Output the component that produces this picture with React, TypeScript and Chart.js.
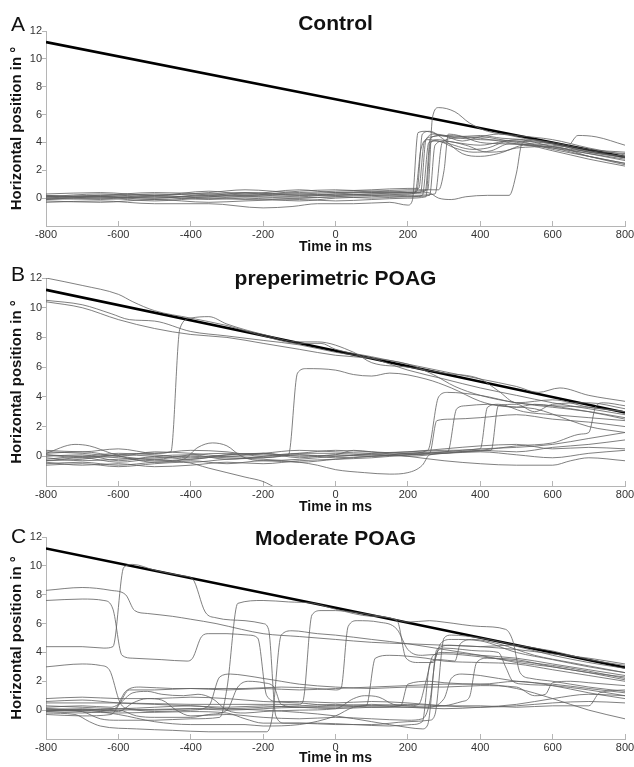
import React, { useEffect, useRef } from 'react';
import { Chart, registerables } from 'chart.js';
Chart.register(...registerables);
Chart.defaults.font.family = '"Liberation Sans", Arial, Helvetica, sans-serif';

type Pt = [number, number];

const xTicks = [-800, -600, -400, -200, 0, 200, 400, 600, 800];
const yTicks = [0, 2, 4, 6, 8, 10, 12];
const panelTitles = ['Control', 'preperimetric POAG', 'Moderate POAG'];
const panelLetters = ['A', 'B', 'C'];
const xTitle = 'Time in ms';
const yTitle = 'Horizontal position in °';

const targetA: Pt[] = [[-800, 11.2], [0, 7.1], [800, 2.95]];
const targetB: Pt[] = [[-800, 11.2], [0, 7.1], [800, 2.95]];
const targetC: Pt[] = [[-800, 11.2], [0, 7.1], [800, 2.95]];

const tracesA: Pt[][] = [
  [[-800,0.1],[-650,0.3],[-500,0.2],[-350,0.4],[-250,0.6],[-100,0.4],[0,0.5],[100,0.6],[200,0.7],[230,0.7],[245,4.0],[265,4.4],[300,4.5],[400,4.3],[500,3.9],[600,3.6],[700,3.2],[800,2.8]],
  [[-800,-0.1],[-650,0.0],[-500,-0.2],[-350,0.0],[-250,-0.1],[-100,0.0],[0,0.1],[100,0.0],[200,0.1],[240,0.2],[258,4.0],[280,4.1],[330,3.6],[380,3.3],[430,3.4],[480,3.9],[600,3.6],[700,3.0],[800,2.5]],
  [[-800,-0.3],[-650,-0.2],[-500,-0.4],[-350,-0.4],[-200,-0.7],[-120,-0.6],[-50,-0.4],[50,-0.4],[150,-0.3],[200,-0.5],[212,-0.2],[228,4.7],[250,4.8],[290,4.5],[400,4.2],[500,4.1],[600,3.5],[700,3.0],[800,2.5]],
  [[-800,0.0],[-650,0.1],[-500,0.0],[-350,0.2],[-250,0.1],[-100,0.3],[0,0.2],[100,0.3],[200,0.3],[255,0.4],[285,0.0],[320,-0.1],[360,0.1],[420,0.2],[480,0.2],[500,1.8],[515,3.9],[540,4.2],[600,3.9],[700,3.3],[800,2.9]],
  [[-800,0.2],[-650,0.1],[-500,0.3],[-350,0.2],[-250,0.4],[-100,0.3],[0,0.4],[100,0.4],[200,0.5],[255,0.6],[268,5.8],[285,6.5],[330,6.2],[370,5.4],[420,4.8],[500,4.5],[600,4.2],[700,3.6],[800,3.1]],
  [[-800,0.0],[-650,-0.1],[-500,0.1],[-350,-0.1],[-250,0.0],[-100,-0.2],[0,0.0],[100,0.1],[200,0.2],[275,0.3],[295,4.0],[330,4.3],[400,4.4],[500,4.0],[600,3.8],[640,3.7],[670,4.5],[720,4.4],[800,3.8]],
  [[-800,0.3],[-650,0.4],[-500,0.2],[-350,0.5],[-250,0.3],[-100,0.6],[0,0.4],[100,0.5],[200,0.4],[225,0.5],[240,4.6],[260,4.8],[300,4.2],[350,3.2],[400,3.0],[450,3.2],[500,3.6],[600,3.7],[700,3.0],[800,2.4]],
  [[-800,-0.2],[-650,-0.3],[-500,-0.1],[-350,-0.3],[-250,-0.2],[-100,-0.1],[0,-0.2],[100,-0.1],[200,0.0],[250,0.1],[262,3.9],[280,4.2],[330,4.0],[400,3.8],[450,4.0],[500,4.2],[600,3.7],[700,3.2],[800,2.7]],
  [[-800,0.1],[-650,0.2],[-500,0.4],[-350,0.3],[-250,0.2],[-100,0.5],[0,0.6],[100,0.5],[200,0.6],[285,0.6],[300,2.0],[312,4.6],[340,4.5],[400,4.0],[470,3.9],[560,3.8],[650,3.5],[800,3.0]],
  [[-800,0.0],[-650,0.2],[-500,0.1],[-350,0.1],[-250,0.3],[-100,0.2],[0,0.3],[100,0.2],[200,0.3],[220,0.4],[236,3.5],[255,4.2],[300,4.0],[380,3.5],[420,3.6],[480,4.1],[600,3.9],[700,3.4],[800,3.2]],
  [[-800,-0.1],[-650,0.1],[-500,-0.1],[-350,0.1],[-250,0.2],[-100,0.1],[0,0.3],[100,0.4],[200,0.4],[235,0.4],[250,4.2],[275,4.6],[330,4.4],[400,4.5],[460,4.3],[520,4.2],[600,3.9],[700,3.3],[800,3.0]],
  [[-800,0.2],[-650,0.0],[-500,0.2],[-350,0.0],[-250,0.1],[-100,0.0],[0,0.1],[100,0.2],[200,0.1],[260,0.2],[275,3.8],[300,4.1],[360,3.8],[420,3.3],[470,3.4],[520,3.8],[600,3.4],[700,2.8],[800,2.3]],
  [[-800,0.1],[-650,0.1],[-500,0.0],[-350,0.3],[-250,0.4],[-100,0.2],[0,0.2],[100,0.3],[200,0.4],[248,0.5],[262,4.3],[290,4.5],[350,4.1],[400,4.4],[450,4.6],[520,4.3],[600,4.0],[700,3.5],[800,3.3]],
];

const tracesB: Pt[][] = [
  [[-800,12.0],[-700,11.5],[-600,10.9],[-560,10.4],[-500,9.8],[-400,9.3],[-300,8.8],[-200,8.1],[-100,7.6],[-40,7.6],[0,7.2],[100,6.7],[200,6.2],[300,5.7],[400,5.2],[500,4.7],[560,4.3],[620,4.6],[700,4.1],[800,3.7]],
  [[-800,10.5],[-700,10.2],[-620,9.6],[-570,9.2],[-500,9.1],[-400,8.4],[-300,8.1],[-200,7.8],[-100,7.5],[0,7.0],[100,6.6],[200,5.8],[300,5.2],[400,4.6],[500,4.1],[600,3.6],[700,3.2],[800,2.8]],
  [[-800,10.4],[-700,10.0],[-600,9.2],[-500,8.6],[-400,8.2],[-300,8.0],[-200,7.6],[-100,7.2],[0,6.8],[100,6.6],[200,6.2],[270,5.5],[330,4.7],[400,4.1],[500,3.6],[600,3.3],[700,3.0],[800,2.5]],
  [[-800,-0.3],[-700,-0.2],[-600,0.1],[-500,0.2],[-455,0.3],[-430,8.6],[-400,9.3],[-350,9.4],[-300,8.9],[-200,8.2],[-100,7.7],[-50,7.7],[50,7.0],[100,6.3],[200,6.0],[300,5.6],[400,5.2],[450,4.4],[500,3.6],[600,3.8],[700,3.3],[800,3.0]],
  [[-800,0.2],[-700,0.3],[-600,0.0],[-500,-0.2],[-400,0.1],[-300,0.2],[-200,0.1],[-130,0.1],[-105,5.6],[-80,5.9],[0,5.8],[50,5.5],[100,5.4],[150,5.6],[250,5.2],[320,4.6],[400,3.7],[450,3.4],[550,3.2],[650,2.4],[700,2.0],[800,1.6]],
  [[-800,0.0],[-700,0.1],[-600,-0.3],[-500,0.0],[-400,0.1],[-300,-0.2],[-200,0.0],[-100,0.2],[0,0.2],[100,0.1],[200,0.2],[255,0.4],[285,4.0],[310,4.3],[400,4.1],[500,3.6],[600,3.4],[700,3.3],[800,3.0]],
  [[-800,-0.5],[-700,-0.4],[-600,-0.6],[-500,-0.4],[-400,-0.3],[-300,-0.5],[-200,-0.3],[-100,-0.4],[0,-0.2],[100,0.0],[200,0.1],[260,0.2],[280,2.4],[320,2.5],[400,2.6],[500,2.8],[600,2.5],[700,2.3],[800,2.0]],
  [[-800,0.4],[-700,0.3],[-600,0.5],[-500,0.2],[-400,0.4],[-300,0.3],[-200,0.0],[-100,0.2],[0,0.4],[100,0.3],[200,0.2],[310,0.3],[335,3.2],[360,3.4],[420,3.5],[500,3.3],[550,3.5],[650,3.2],[800,2.6]],
  [[-800,-0.2],[-700,0.0],[-600,-0.1],[-500,-0.3],[-400,-0.2],[-300,0.0],[-200,-0.1],[-100,0.1],[0,0.0],[100,0.2],[200,0.3],[300,0.4],[400,0.5],[420,3.3],[450,3.5],[520,3.0],[600,2.8],[700,2.6],[800,2.4]],
  [[-800,0.1],[-700,-0.1],[-600,0.1],[-500,0.0],[-400,-0.2],[-300,0.1],[-200,0.2],[-100,-0.1],[0,0.1],[100,0.0],[200,0.2],[300,0.3],[430,0.4],[450,3.4],[500,3.5],[550,3.0],[600,3.5],[700,3.6],[800,3.2]],
  [[-800,-0.3],[-700,-0.1],[-600,-0.4],[-500,-0.2],[-400,-0.4],[-300,-0.2],[-200,-0.1],[-100,0.1],[0,-0.1],[100,0.0],[200,0.1],[300,0.2],[400,0.4],[500,0.7],[600,0.9],[680,1.5],[700,1.6],[720,3.4],[740,3.6],[800,3.4]],
  [[-800,-0.6],[-700,-0.5],[-600,-0.7],[-500,-0.5],[-420,-0.4],[-350,-0.8],[-300,-1.1],[-250,-1.4],[-200,-1.7],[-160,-2.2]],
  [[-800,0.2],[-720,0.8],[-680,0.7],[-620,0.2],[-560,-0.2],[-500,-0.4],[-420,-0.2],[-380,0.6],[-340,0.9],[-300,0.7],[-260,0.0],[-200,-0.3],[-100,-0.2],[0,0.0],[100,0.1],[200,0.0],[300,0.2],[400,0.4],[500,0.3],[600,0.6],[700,0.8],[800,1.1]],
  [[-800,-0.1],[-700,-0.3],[-600,-0.2],[-500,-0.1],[-400,0.0],[-300,-0.1],[-200,-0.2],[-100,-0.4],[-50,-0.6],[0,-0.9],[80,-1.1],[150,-1.2],[200,-1.1],[240,-0.6],[260,0.1],[300,0.2],[400,0.3],[500,0.1],[600,-0.1],[700,0.2],[800,0.4]],
  [[-800,0.1],[-700,0.0],[-600,0.2],[-500,0.1],[-400,-0.1],[-300,0.1],[-200,0.2],[-100,0.0],[0,0.1],[50,0.4],[100,0.3],[200,0.0],[300,-0.3],[400,-0.5],[500,-0.6],[600,-0.6],[650,-0.3],[700,-0.1],[800,-0.3]],
  [[-800,-0.4],[-700,-0.6],[-600,-0.5],[-500,-0.7],[-400,-0.6],[-300,-0.4],[-200,-0.5],[-100,-0.3],[0,-0.2],[100,-0.1],[200,0.1],[300,0.3],[400,0.5],[500,0.6],[600,0.8],[700,1.2],[800,1.6]],
  [[-800,0.3],[-700,0.2],[-600,0.0],[-500,0.3],[-400,0.2],[-300,0.0],[-200,0.2],[-100,0.4],[0,0.3],[100,0.2],[200,0.3],[300,0.5],[400,0.7],[500,0.8],[600,0.5],[700,0.6],[800,0.5]],
];

const tracesC: Pt[][] = [
  [[-800,8.3],[-700,8.5],[-620,8.3],[-580,8.0],[-555,6.9],[-520,6.7],[-450,6.5],[-400,6.3],[-330,6.0],[-260,5.6],[-200,5.3],[-100,5.1],[0,4.9],[100,4.7],[200,4.6],[300,4.5],[400,4.4],[500,4.2],[600,3.9],[700,3.6],[800,3.2]],
  [[-800,7.6],[-700,7.7],[-640,7.6],[-615,7.0],[-590,3.8],[-560,3.6],[-480,3.5],[-410,3.4],[-395,3.6],[-370,5.1],[-350,5.3],[-300,5.3],[-240,5.2],[-215,5.0],[-190,1.0],[-160,0.6],[-100,0.6],[0,0.5],[100,0.6],[200,0.5],[300,0.3],[400,0.2],[500,0.3],[600,0.5],[700,0.6],[800,0.5]],
  [[-800,4.4],[-700,4.4],[-640,4.3],[-615,4.4],[-585,9.9],[-560,10.1],[-500,9.7],[-420,9.3],[-395,9.1],[-360,6.8],[-330,6.4],[-250,6.2],[-200,6.0],[-185,5.6],[-165,-0.4],[-140,-0.9],[-50,-0.9],[50,-1.0],[150,-1.1],[210,-1.0],[240,-0.8],[262,3.3],[290,3.5],[330,3.4],[345,4.6],[380,4.9],[450,4.6],[550,3.8],[650,3.3],[800,2.6]],
  [[-800,3.0],[-700,3.2],[-650,3.1],[-625,2.8],[-595,0.5],[-570,0.1],[-500,0.0],[-400,0.1],[-300,0.0],[-200,0.1],[-100,0.2],[0,0.2],[85,0.3],[110,3.6],[150,3.8],[250,3.6],[300,3.4],[400,3.3],[500,3.2],[600,2.8],[700,2.4],[800,2.0]],
  [[-800,0.1],[-700,-0.1],[-650,-0.6],[-600,-0.7],[-500,-0.7],[-400,-0.6],[-320,-0.5],[-300,1.5],[-270,7.4],[-200,7.6],[-130,7.5],[-60,7.4],[0,7.0],[100,6.5],[170,6.2],[195,3.6],[230,3.3],[270,3.3],[290,4.6],[320,4.9],[400,4.8],[500,4.0],[600,3.5],[700,3.0],[800,2.6]],
  [[-800,-0.2],[-720,-0.3],[-680,-0.8],[-650,-1.1],[-550,-1.3],[-450,-1.4],[-350,-1.5],[-250,-1.5],[-190,-1.5],[-175,-0.5],[-150,5.2],[-120,5.5],[-50,5.3],[0,5.2],[100,4.9],[200,4.6],[300,4.2],[400,3.8],[500,3.3],[600,3.0],[700,2.6],[800,2.3]],
  [[-800,0.5],[-600,0.5],[-400,0.4],[-200,0.4],[-100,0.4],[-90,0.6],[-65,6.6],[-40,6.9],[0,6.9],[100,6.6],[150,6.4],[200,6.1],[260,6.2],[300,6.1],[400,5.8],[470,5.6],[490,4.8],[510,2.6],[540,2.2],[600,2.0],[700,1.6],[800,1.3]],
  [[-800,0.0],[-650,0.0],[-610,0.1],[-580,1.3],[-540,1.6],[-450,1.5],[-350,1.5],[-250,1.5],[-150,1.6],[-50,1.5],[0,1.4],[15,1.5],[35,5.8],[60,6.2],[120,6.1],[170,5.6],[200,4.2],[240,3.8],[300,3.9],[400,3.7],[500,3.4],[600,3.1],[700,2.7],[800,2.2]],
  [[-800,0.8],[-700,0.9],[-600,0.8],[-500,0.8],[-400,0.9],[-300,0.8],[-200,0.6],[-100,0.5],[0,0.3],[100,0.4],[200,0.3],[230,0.4],[250,2.0],[270,3.8],[300,4.0],[400,3.8],[500,3.6],[600,3.2],[700,2.8],[800,2.4]],
  [[-800,0.2],[-700,0.3],[-620,0.2],[-600,0.4],[-560,1.2],[-520,1.3],[-480,1.1],[-420,1.0],[-380,1.1],[-340,0.8],[-300,0.0],[-250,-0.2],[-200,-0.1],[-100,0.0],[0,0.1],[50,0.8],[80,1.0],[120,0.9],[160,0.4],[200,0.3],[250,0.2],[300,0.8],[320,2.2],[350,2.5],[400,2.4],[500,2.0],[600,1.8],[700,1.5],[800,1.2]],
  [[-800,0.0],[-700,0.1],[-600,-0.1],[-560,0.5],[-520,0.8],[-480,0.7],[-440,0.0],[-400,-0.4],[-300,-0.3],[-200,-0.5],[-100,-0.6],[0,-0.5],[100,-0.6],[200,-0.7],[240,-0.6],[260,0.5],[280,4.0],[300,4.3],[400,4.1],[450,4.0],[470,3.0],[490,2.0],[520,1.8],[600,1.7],[700,1.4],[800,1.0]],
  [[-800,-0.1],[-700,-0.2],[-650,-0.1],[-600,0.0],[-550,-0.4],[-500,-0.5],[-400,-0.5],[-350,-0.3],[-300,0.0],[-270,1.6],[-240,2.0],[-200,1.9],[-170,1.6],[-150,0.4],[-100,0.2],[0,0.1],[100,0.2],[180,0.3],[200,1.8],[260,2.0],[300,1.9],[400,1.8],[500,2.0],[600,1.7],[700,1.2],[800,0.8]],
  [[-800,0.1],[-600,0.0],[-400,0.1],[-200,0.0],[0,-0.4],[100,-0.8],[200,-1.2],[240,-1.3],[255,-1.0],[280,4.2],[320,4.5],[400,4.4],[480,4.5],[520,4.3],[600,3.8],[700,3.3],[800,2.9]],
  [[-800,0.0],[-700,-0.1],[-600,-0.2],[-400,-0.1],[-300,-0.2],[-250,-0.6],[-200,-0.9],[-100,-0.9],[0,-1.0],[100,-1.0],[200,-0.8],[260,-0.7],[275,-0.3],[300,5.0],[320,5.2],[400,5.0],[500,4.5],[600,4.1],[700,3.5],[800,3.1]],
  [[-800,0.6],[-700,0.7],[-600,0.5],[-500,0.4],[-400,0.3],[-300,0.2],[-200,0.3],[-100,0.2],[0,0.3],[100,0.2],[200,0.2],[300,0.3],[350,0.6],[370,0.9],[390,3.3],[420,3.6],[500,3.5],[600,3.0],[700,2.6],[800,2.1]],
  [[-800,-0.3],[-700,-0.4],[-620,-0.3],[-600,0.3],[-570,1.4],[-500,1.4],[-400,1.5],[-300,1.4],[-200,1.5],[-100,1.4],[0,1.5],[100,1.6],[200,1.7],[300,1.8],[400,1.8],[500,1.5],[600,0.8],[700,0.0],[800,-0.6]],
  [[-800,0.3],[-700,0.2],[-600,0.1],[-500,0.2],[-400,0.3],[-300,0.1],[-200,0.2],[-100,0.3],[0,0.4],[100,0.3],[200,0.4],[300,0.3],[400,0.3],[500,0.2],[600,0.3],[700,0.3],[730,1.2],[800,1.4]],
  [[-800,0.0],[-700,0.0],[-600,0.1],[-500,-0.1],[-400,0.0],[-350,0.3],[-320,2.3],[-290,2.5],[-250,2.4],[-200,2.2],[-150,2.0],[-100,1.8],[0,1.6],[100,1.5],[200,1.6],[300,1.6],[400,1.7],[500,1.6],[550,1.0],[580,1.1],[600,1.9],[650,2.0],[700,1.9],[800,1.7]],
  [[-800,-0.1],[-700,0.0],[-600,-0.3],[-500,-0.8],[-400,-1.0],[-300,-1.0],[-250,-1.0],[-200,-1.1],[-100,-1.0],[0,-0.4],[50,0.2],[100,0.3],[200,0.2],[300,0.1],[400,0.2],[500,0.4],[600,0.8],[700,1.1],[800,1.0]],
];

type PanelCfg = {
  idx: number; target: Pt[]; traces: Pt[][];
  top: number; height: number; plotTop: number; plotBottom: number;
  titleDy: number; letterDy: number;
};

const panels: PanelCfg[] = [
  { idx: 0, target: targetA, traces: tracesA, top: 0, height: 256, plotTop: 31, plotBottom: 226, titleDy: -7, letterDy: -6 },
  { idx: 1, target: targetB, traces: tracesB, top: 252, height: 264, plotTop: 278, plotBottom: 486, titleDy: 1, letterDy: -3 },
  { idx: 2, target: targetC, traces: tracesC, top: 510, height: 257, plotTop: 537, plotBottom: 739, titleDy: 2, letterDy: 0 },
];

const panelTextPlugin = {
  id: 'panelText',
  afterDraw(chart: any, _args: any, opts: any) {
    const { ctx, chartArea } = chart;
    ctx.save();
    ctx.fillStyle = '#111';
    ctx.textBaseline = 'middle';
    ctx.textAlign = 'center';
    ctx.font = 'bold 21px "Liberation Sans", Arial, sans-serif';
    ctx.fillText(opts.title, (chartArea.left + chartArea.right) / 2, chartArea.top + opts.titleDy);
    ctx.textAlign = 'left';
    ctx.font = '21px "Liberation Sans", Arial, sans-serif';
    ctx.fillText(opts.letter, 11, chartArea.top + opts.letterDy);
    ctx.restore();
  },
};

function Panel({ cfg }: { cfg: PanelCfg }) {
  const ref = useRef<HTMLCanvasElement>(null);
  useEffect(() => {
    if (!ref.current) return;
    const xh = cfg.top + cfg.height - cfg.plotBottom;
    const xTitlePad = Math.max(0, cfg.top + cfg.height - 8.4 - (cfg.plotBottom + 21));
    const datasets: any[] = cfg.traces.map((tr) => ({
      data: tr.map(([x, y]) => ({ x, y })),
      borderColor: '#606060',
      borderWidth: 0.8,
      pointRadius: 0,
      cubicInterpolationMode: 'monotone',
      fill: false,
    }));
    datasets.push({
      data: cfg.target.map(([x, y]) => ({ x, y })),
      borderColor: '#000',
      borderWidth: 2.6,
      pointRadius: 0,
      fill: false,
    });
    const chart = new Chart(ref.current, {
      type: 'line',
      data: { datasets },
      options: {
        animation: false,
        responsive: false,
        events: [],
        layout: { padding: { top: cfg.plotTop - cfg.top, left: 0, right: 9, bottom: 0 } },
        plugins: {
          legend: { display: false },
          tooltip: { enabled: false },
          title: { display: false },
          panelText: { title: panelTitles[cfg.idx], letter: panelLetters[cfg.idx], titleDy: cfg.titleDy, letterDy: cfg.letterDy },
        } as any,
        scales: {
          x: {
            type: 'linear',
            min: -800,
            max: 800,
            afterBuildTicks: (s: any) => { s.ticks = xTicks.map((v) => ({ value: v })); },
            afterFit: (s: any) => { s.height = xh; s.paddingLeft = 0; s.paddingRight = 0; },
            ticks: { font: { size: 11 }, color: '#333', padding: 7, maxRotation: 0, autoSkip: false },
            grid: { drawOnChartArea: false, tickLength: -5, color: '#b5b5b5' },
            border: { color: '#b5b5b5', width: 1 },
            title: { display: true, text: xTitle, font: { size: 14, weight: 'bold' }, color: '#111', padding: { top: 0, bottom: xTitlePad } },
          },
          y: {
            type: 'linear',
            min: -2,
            max: 12,
            afterBuildTicks: (s: any) => { s.ticks = yTicks.map((v) => ({ value: v })); },
            afterFit: (s: any) => { s.width = 46; },
            ticks: { font: { size: 11 }, color: '#333', padding: 0 },
            grid: { drawOnChartArea: false, tickLength: 4, color: '#b5b5b5' },
            border: { color: '#b5b5b5', width: 1 },
            title: { display: true, text: yTitle, font: { size: 15, weight: 'bold' }, color: '#111', padding: { top: 8, bottom: 0 } },
          },
        },
      } as any,
      plugins: [panelTextPlugin],
    });
    return () => chart.destroy();
  }, [cfg]);
  return (
    <canvas
      ref={ref}
      width={634}
      height={cfg.height}
      style={{ position: 'absolute', left: 0, top: cfg.top, width: 634, height: cfg.height, display: 'block' }}
    />
  );
}

export default function App() {
  return (
    <div style={{ position: 'fixed', left: 0, top: 0, width: 634, height: 767, background: '#fff', overflow: 'hidden' }}>
      {panels.map((p) => (
        <Panel key={p.idx} cfg={p} />
      ))}
    </div>
  );
}
